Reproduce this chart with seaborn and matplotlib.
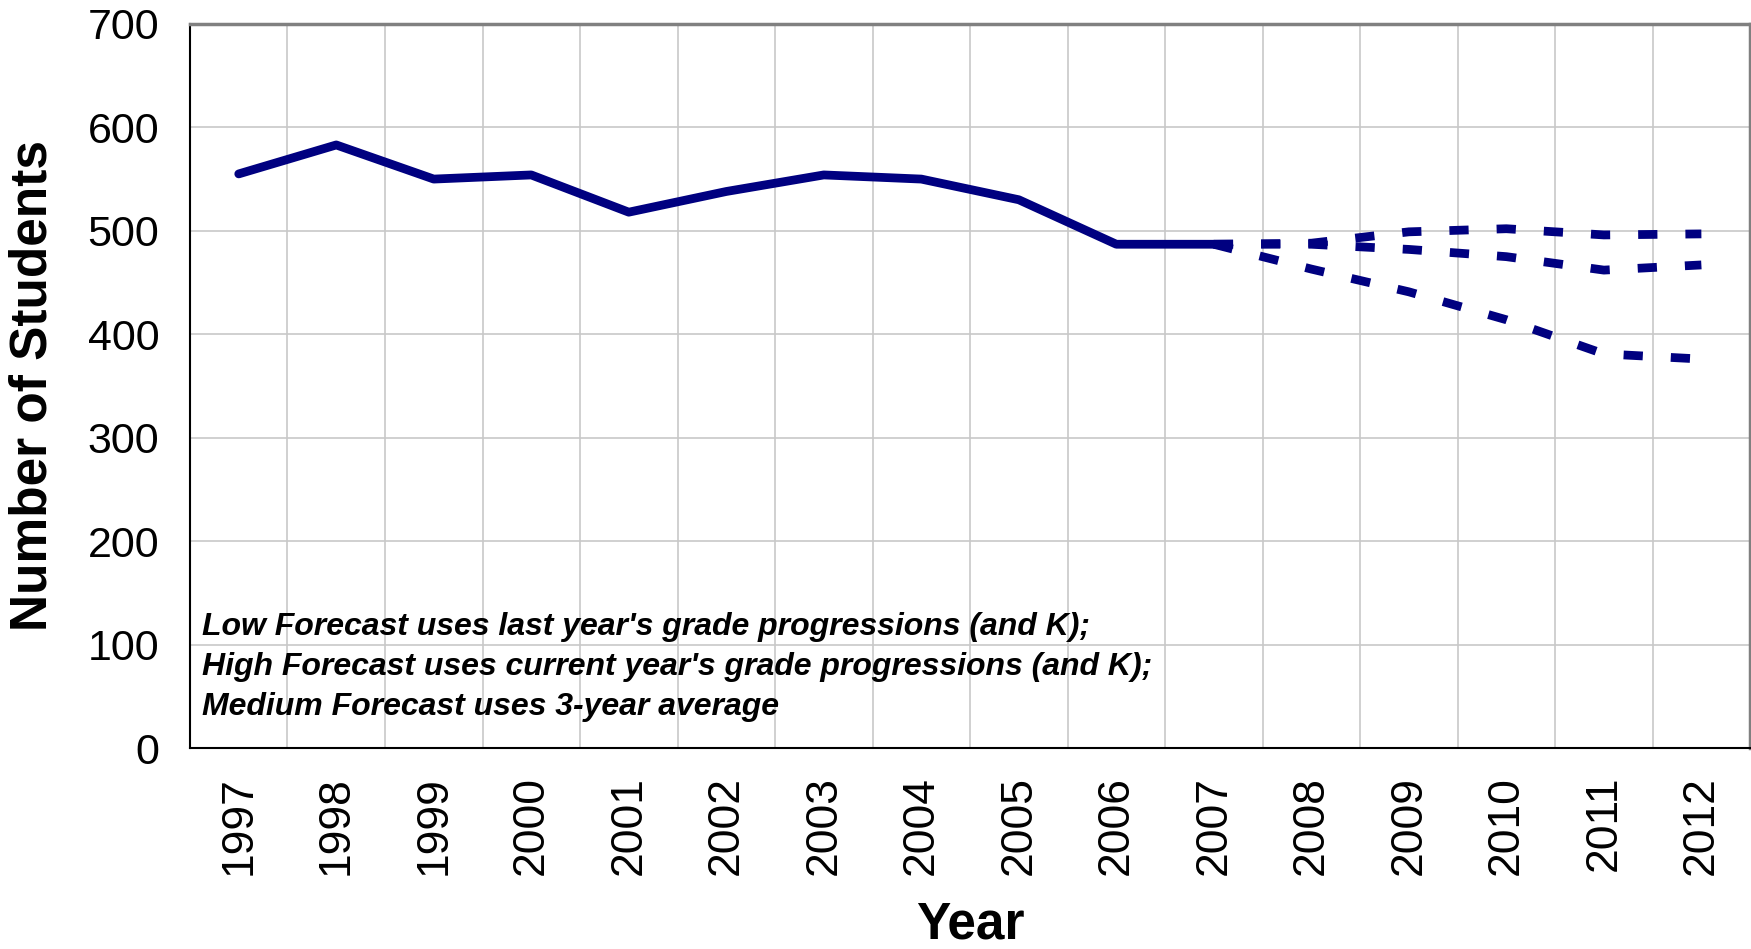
import pandas as pd
import seaborn as sns
import matplotlib.pyplot as plt

# data
years = [str(y) for y in range(1997, 2013)]
actual = [555, 583, 550, 554, 518, 538, 554, 550, 530, 487, 487]
high_fc = [487, 488, 499, 502, 496, 497]
medium_fc = [487, 487, 482, 475, 462, 467]
low_fc = [487, 463, 441, 414, 381, 376]
notes = ["Low Forecast uses last year's grade progressions (and K);",
         "High Forecast uses current year's grade progressions (and K);",
         "Medium Forecast uses 3-year average"]

sns.set_style("white")
plt.rcParams['font.family'] = ['Liberation Sans', 'DejaVu Sans']
plt.rcParams['text.color'] = 'black'
plt.rcParams['axes.labelcolor'] = 'black'
plt.rcParams['xtick.color'] = 'black'
plt.rcParams['ytick.color'] = 'black'

navy = '#000080'

hist = pd.DataFrame({'pos': range(len(actual)), 'students': actual})
fc_start = len(actual) - 1
fc = pd.DataFrame({'pos': list(range(fc_start, fc_start + len(high_fc))),
                   'high': high_fc, 'medium': medium_fc, 'low': low_fc})

fig = plt.figure(figsize=(17.51, 9.49), dpi=100)
ax = fig.add_axes([0.1085, 0.2118, 0.891, 0.763])

sns.lineplot(data=hist, x='pos', y='students', color=navy, lw=6.3, ax=ax)
for col in ['high', 'medium', 'low']:
    sns.lineplot(data=fc, x='pos', y=col, color=navy, lw=6.3,
                 linestyle=(0, (2.2, 3.2)), ax=ax)

# excel style category axis: ticks between categories
n = len(years)
ax.set_xlim(-0.5, n - 0.5)
ax.set_ylim(0, 700)
ax.set_xticks([i - 0.5 for i in range(n + 1)])
ax.set_xticklabels([])
ax.set_xticks(range(n), minor=True)
ax.set_xticklabels(years, minor=True, rotation=90, fontsize=32)
ax.tick_params(axis='x', which='minor', length=0, pad=20)
ax.tick_params(axis='x', which='major', length=10, width=1.5, direction='out', color='#404040')
ax.set_yticks(range(0, 701, 100))
ax.tick_params(axis='y', length=10, width=1.5, direction='out', labelsize=31, pad=12)
ax.grid(True, which='major', color='#c8c8c8', lw=1.2)

for s in ['left', 'bottom']:
    ax.spines[s].set_color('black')
    ax.spines[s].set_linewidth(1.5)
for s in ['top', 'right']:
    ax.spines[s].set_color('#808080')
    ax.spines[s].set_linewidth(2.5)

ax.set_xlabel('Year', fontsize=37, fontweight='bold')
ax.set_ylabel('Number of Students', fontsize=37, fontweight='bold')
ax.xaxis.set_label_coords(0.5, -0.21)
ax.yaxis.set_label_coords(-0.085, 0.5)

for i, txt in enumerate(notes):
    ax.text(0.0077, 0.167 - i * 0.055, txt, transform=ax.transAxes,
            fontsize=23, fontweight='bold', fontstyle='italic', va='center')

plt.savefig('out.png', dpi=100)
